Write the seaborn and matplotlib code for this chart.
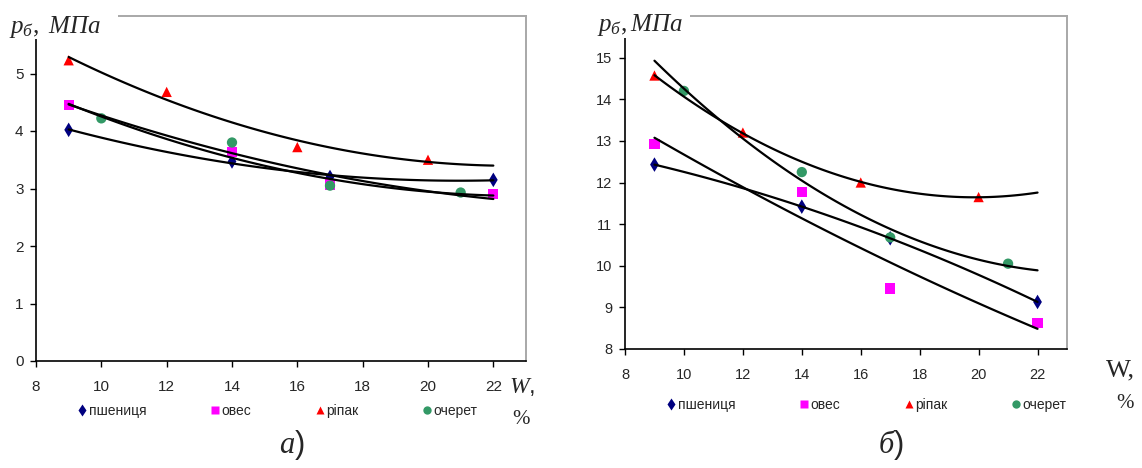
import numpy as np
import pandas as pd
import matplotlib
matplotlib.use("Agg")
import matplotlib.pyplot as plt
from matplotlib.patches import Rectangle
import seaborn as sns

# chart a) values
w_psh_a = [9, 14, 17, 22]
p_psh_a = [4.02, 3.47, 3.20, 3.15]
w_oves_a = [9, 14, 17, 22]
p_oves_a = [4.45, 3.63, 3.07, 2.90]
w_ripak_a = [9, 12, 16, 20]
p_ripak_a = [5.23, 4.68, 3.72, 3.50]
w_ocheret_a = [10, 14, 17, 21]
p_ocheret_a = [4.22, 3.80, 3.05, 2.93]

# chart б) values
w_psh_b = [9, 14, 17, 22]
p_psh_b = [12.43, 11.42, 10.66, 9.13]
w_oves_b = [9, 14, 17, 22]
p_oves_b = [12.93, 11.77, 9.45, 8.63]
w_ripak_b = [9, 12, 16, 20]
p_ripak_b = [14.57, 13.20, 12.00, 11.65]
w_ocheret_b = [10, 14, 17, 21]
p_ocheret_b = [14.20, 12.25, 10.68, 10.05]

names = ['пшениця', 'овес', 'ріпак', 'очерет']
colors = {'пшениця': '#000080', 'овес': '#FF00FF', 'ріпак': '#FF0000', 'очерет': '#339966'}
markers = {'пшениця': 'd', 'овес': 's', 'ріпак': '^', 'очерет': 'o'}

sns.set_theme(style='white')
plt.rcParams['font.family'] = ['Liberation Sans', 'DejaVu Sans']
plt.rcParams['mathtext.fontset'] = 'custom'
plt.rcParams['mathtext.rm'] = 'Liberation Serif'
plt.rcParams['mathtext.it'] = 'Liberation Serif:italic'

W, H = 1142, 468
fig = plt.figure(figsize=(W / 100, H / 100), dpi=100)


def fx(px):
    return px / W


def fy(py):
    return 1 - py / H


def make_df(ws, ps):
    rows = []
    for name, w, p in zip(names, ws, ps):
        for xi, yi in zip(w, p):
            rows.append({'W': xi, 'p': yi, 'name': name})
    return pd.DataFrame(rows)


def draw(rect, ws, ps, ylim, yticks, fs, pad):
    ax = fig.add_axes(rect)
    df = make_df(ws, ps)
    sns.scatterplot(data=df, x='W', y='p', hue='name', style='name',
                    palette=colors, markers=markers, s=55, edgecolor='none',
                    hue_order=names, style_order=names, ax=ax, zorder=3)
    # 2nd order trend lines over 9..22
    ax.set_xlim(9, 22)
    for w, p in zip(ws, ps):
        sns.regplot(x=np.array(w), y=np.array(p), order=2, ci=None, scatter=False,
                    truncate=False, color='black', line_kws={'lw': 1.6, 'zorder': 4}, ax=ax)
    ax.set_xlim(8, 23)
    ax.set_ylim(*ylim)
    ax.set_xticks(range(8, 23, 2))
    ax.set_yticks(yticks)
    ax.tick_params(axis='both', labelsize=fs, length=4, width=1, color='black',
                   direction='out', bottom=True, left=True, pad=5)
    ax.tick_params(axis='x', pad=pad)
    ax.set_xlabel('')
    ax.set_ylabel('')
    for s in ['left', 'bottom']:
        ax.spines[s].set_color('black')
        ax.spines[s].set_linewidth(1.2)
    for s in ['top', 'right']:
        ax.spines[s].set_color('#A8A8A8')
        ax.spines[s].set_linewidth(1.4)
    handles, labels = ax.get_legend_handles_labels()
    ax.get_legend().remove()
    return ax, handles, labels


ax1, h1, l1 = draw([fx(36), fy(361), fx(526) - fx(36), fy(16) - fy(361)],
                   [w_psh_a, w_oves_a, w_ripak_a, w_ocheret_a],
                   [p_psh_a, p_oves_a, p_ripak_a, p_ocheret_a],
                   (0, 6), range(0, 6), 11, 10)
ax2, h2, l2 = draw([fx(625), fy(349), fx(1067) - fx(625), fy(16) - fy(349)],
                   [w_psh_b, w_oves_b, w_ripak_b, w_ocheret_b],
                   [p_psh_b, p_oves_b, p_ripak_b, p_ocheret_b],
                   (8, 16), range(8, 16), 10.5, 10)

for h in h1 + h2:
    h.set_markersize(6)

fig.legend(h1, l1, loc='center', bbox_to_anchor=(fx(278), fy(411)), ncol=4,
           frameon=False, fontsize=10, handlelength=0.6, handletextpad=0.2,
           columnspacing=4.6, borderpad=0)
fig.legend(h2, l2, loc='center', bbox_to_anchor=(fx(867), fy(405)), ncol=4,
           frameon=False, fontsize=10, handlelength=0.6, handletextpad=0.2,
           columnspacing=4.6, borderpad=0)

# white boxes behind the y labels (hide the frame corner like in the original)
fig.add_artist(Rectangle((0, fy(39)), fx(118), 1 - fy(39), transform=fig.transFigure,
                         facecolor='white', edgecolor='none', zorder=2))
fig.add_artist(Rectangle((fx(585), fy(38)), fx(690) - fx(585), 1 - fy(38),
                         transform=fig.transFigure, facecolor='white', edgecolor='none', zorder=2))

fig.text(fx(9), fy(27), r'$\mathit{p_{б},\ МПа}$', fontsize=18, va='center', ha='left', zorder=5)
fig.text(fx(597), fy(25), r'$\mathit{p_{б},МПа}$', fontsize=18, va='center', ha='left', zorder=5)

fig.text(fx(509), fy(387), r'$\mathit{W}$,', fontsize=17, va='center', ha='left')
fig.text(fx(512), fy(419), '%', fontsize=15, va='center', ha='left', family='Liberation Serif')
fig.text(fx(1106), fy(370), 'W,', fontsize=19, va='center', ha='left', family='Liberation Serif')
fig.text(fx(1116), fy(404), '%', fontsize=15, va='center', ha='left', family='Liberation Serif')

fig.text(fx(292), fy(445), r'$\mathit{а}$)', fontsize=22, va='center', ha='center')
fig.text(fx(891), fy(445), r'$\mathit{б}$)', fontsize=22, va='center', ha='center')

fig.savefig('out.png', dpi=100, facecolor='white')
